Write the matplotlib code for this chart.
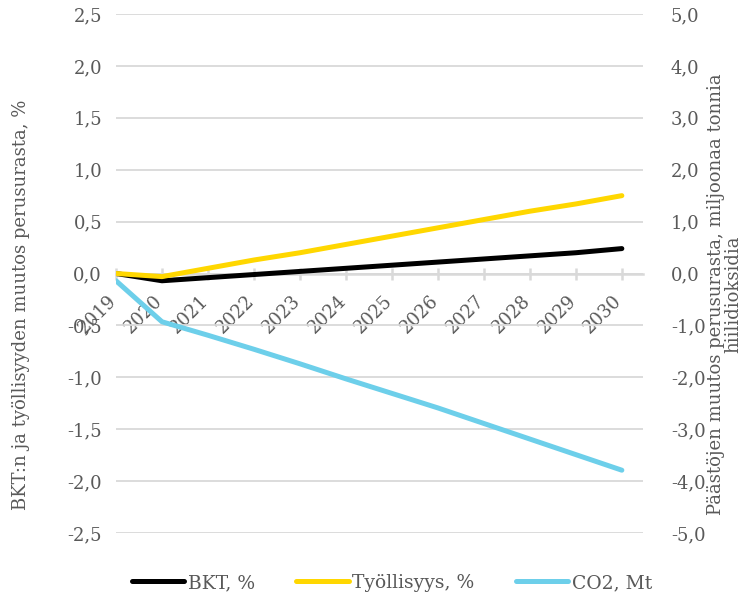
import numpy as np
import matplotlib
matplotlib.use("Agg")
import matplotlib.pyplot as plt
import matplotlib.transforms as mtransforms
from matplotlib.ticker import FuncFormatter, MultipleLocator

# data
years = ["2019", "2020", "2021", "2022", "2023", "2024",
         "2025", "2026", "2027", "2028", "2029", "2030"]
bkt = [0.0, -0.07, -0.04, -0.01, 0.02, 0.05, 0.08, 0.11, 0.14, 0.17, 0.20, 0.24]
tyollisyys = [0.0, -0.03, 0.05, 0.13, 0.20, 0.28, 0.36, 0.44, 0.52, 0.60, 0.67, 0.75]
co2 = [-0.14, -0.93, -1.19, -1.46, -1.74, -2.03, -2.31, -2.59, -2.89, -3.19, -3.49, -3.79]

grey_text = "#595959"
grid_col = "#d9d9d9"
plt.rcParams["font.family"] = ["DejaVu Serif"]
fs = 13

fig = plt.figure(figsize=(7.53, 6.01), dpi=100)
ax = fig.add_axes([116 / 753, 68 / 601, 527 / 753, 519 / 601])
ax2 = ax.twinx()

x = np.arange(len(years))
l1, = ax.plot(x, bkt, color="black", lw=3.6, solid_capstyle="round", zorder=3)
l2, = ax.plot(x, tyollisyys, color="#ffd700", lw=3.6, solid_capstyle="round", zorder=3)
l3, = ax2.plot(x, co2, color="#6dcfea", lw=3.6, solid_capstyle="round", zorder=3)

ax.set_xlim(0, 11.46)
ax.set_ylim(-2.5, 2.5)
ax2.set_ylim(-5, 5)

comma = lambda v, p: f"{v:.1f}".replace(".", ",")
ax.yaxis.set_major_locator(MultipleLocator(0.5))
ax.yaxis.set_major_formatter(FuncFormatter(comma))
ax2.yaxis.set_major_locator(MultipleLocator(1.0))
ax2.yaxis.set_major_formatter(FuncFormatter(comma))

ax.grid(axis="y", color=grid_col, lw=1.3, zorder=0)
ax.set_axisbelow(True)

for a in (ax, ax2):
    for s in ("left", "right", "top", "bottom"):
        a.spines[s].set_visible(False)

ax.spines["bottom"].set_visible(True)
ax.spines["bottom"].set_position(("data", 0))
ax.spines["bottom"].set_color(grid_col)
ax.spines["bottom"].set_linewidth(1.8)

ax.set_xticks(x)
ax.set_xticklabels(years, rotation=45, ha="right", va="top",
                   rotation_mode="anchor", fontsize=fs, color=grey_text)
ax.tick_params(axis="x", direction="inout", length=9, width=1.8,
               color=grid_col, pad=8)
shift = mtransforms.ScaledTranslation(-9 / 100, -1 / 100, fig.dpi_scale_trans)
for lbl in ax.get_xticklabels():
    lbl.set_transform(lbl.get_transform() + shift)

ax.tick_params(axis="y", length=0, pad=10, labelsize=fs, labelcolor=grey_text)
ax2.tick_params(axis="y", length=0, pad=20, labelsize=fs, labelcolor=grey_text)

ax.set_ylabel("BKT:n ja työllisyyden muutos perusurasta, %",
              fontsize=fs, color=grey_text)
ax.yaxis.set_label_coords(-0.163, 0.44)
ax2.set_ylabel("Päästöjen muutos perusurasta, miljoonaa tonnia\nhiilidioksidia",
               fontsize=fs, color=grey_text, linespacing=0.95)
ax2.yaxis.set_label_coords(1.121, 0.46)

leg = fig.legend([l1, l2, l3], ["BKT, %", "Työllisyys, %", "CO2, Mt"],
                 loc="center", bbox_to_anchor=(392 / 753, 18 / 601),
                 ncol=3, frameon=False, fontsize=13.5, handlelength=2.8,
                 handletextpad=0.2, columnspacing=2.2)
for t in leg.get_texts():
    t.set_color(grey_text)

fig.savefig("out.png", dpi=100)
